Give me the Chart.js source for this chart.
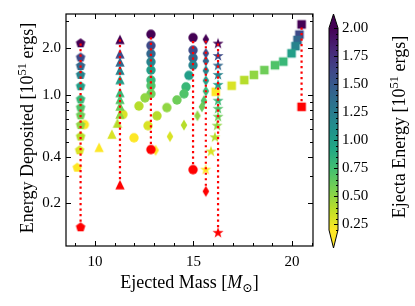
<!DOCTYPE html>
<html>
<head>
<meta charset="utf-8">
<script src="https://cdn.jsdelivr.net/npm/chart.js@4"></script>
<style>
html, body { margin: 0; padding: 0; background: #fff; }
</style>
</head>
<body>
<canvas id="chart" width="415" height="306"></canvas>
<script>
// ejecta energy (colour) of the n-th point of every series [10^51 ergs]
const ejecta = [2.0, 1.6, 1.4, 1.2, 1.0, 0.8, 0.7, 0.6, 0.5, 0.4, 0.3, 0.2];

// ejected mass / energy deposited, one pair of arrays per model
const pentMass = [9.27, 9.27, 9.27, 9.27, 9.27, 9.27, 9.27, 9.27, 9.27, 9.27, 9.22, 9.10];
const pentE    = [2.16, 1.75, 1.54, 1.35, 1.14, 0.94, 0.83, 0.74, 0.64, 0.54, 0.44, 0.34];

const triMass = [11.27, 11.27, 11.27, 11.27, 11.27, 11.27, 11.27, 11.27, 11.27, 11.14, 10.86, 10.21];
const triE    = [2.29, 1.85, 1.64, 1.45, 1.26, 1.04, 0.94, 0.85, 0.755, 0.66, 0.56, 0.46];

const circAMass = [12.84, 12.84, 12.84, 12.84, 12.84, 12.84, 12.84, 12.84, 12.54, 12.23, 11.42, 9.46];
const circAE    = [2.47, 2.09, 1.85, 1.64, 1.45, 1.25, 1.15, 1.02, 0.96, 0.85, 0.75, 0.645];

const circBMass = [14.98, 14.98, 14.98, 14.98, 14.77, 14.62, 14.52, 14.16, 13.65, 13.15, 12.69, 11.98];
const circBE    = [2.35, 1.95, 1.74, 1.56, 1.34, 1.13, 1.02, 0.93, 0.83, 0.735, 0.635, 0.53];

const diaMass = [15.63, 15.63, 15.63, 15.63, 15.63, 15.63, 15.53, 15.43, 15.20, 14.52, 13.81, 13.08];
const diaE    = [2.29, 1.86, 1.66, 1.44, 1.24, 1.06, 0.92, 0.84, 0.736, 0.64, 0.54, 0.44];

const starMass = [16.25, 16.25, 16.25, 16.25, 16.25, 16.25, 16.25, 16.25, 16.2, 16.09, 15.89, 15.62];
const starE    = [2.15, 1.79, 1.55, 1.35, 1.165, 0.92, 0.816, 0.725, 0.635, 0.534, 0.432, 0.33];

const sqMass = [20.49, 20.38, 20.28, 20.18, 19.98, 19.56, 19.14, 18.60, 18.07, 17.58, 16.94, 16.13];
const sqE    = [2.86, 2.46, 2.27, 2.07, 1.86, 1.645, 1.56, 1.45, 1.35, 1.25, 1.15, 1.05];

// red markers (bottom of each dotted line)
const bindMass  = [9.27, 11.27, 12.84, 14.98, 15.63, 16.25, 20.49];
const bindE     = [0.14, 0.264, 0.445, 0.33, 0.239, 0.129, 0.84];
const bindShape = ['pentagon', 'triangle', 'circle', 'circle', 'diamond', 'star', 'square'];
const lineTopE  = [2.16, 2.29, 2.47, 2.35, 2.29, 2.15, 2.86];

// ticks
const xMajor = [10, 15, 20];
const xMinor = [9, 11, 12, 13, 14, 16, 17, 18, 19, 21];
const yMajor = [0.2, 0.4, 1.0, 2.0];
const yMinor = [0.3, 0.5, 0.6, 0.7, 0.8, 0.9, 3.0];
const cbarTicks = [0.25, 0.5, 0.75, 1.0, 1.25, 1.5, 1.75, 2.0];
const cbarMin = 0.2, cbarMax = 2.0;

const FONT = '"Liberation Serif", "DejaVu Serif", serif';
const VIR = ['#440154', '#482475', '#414487', '#355f8d', '#2a788e', '#21918c',
             '#22a884', '#44bf70', '#7ad151', '#bddf26', '#fde725'];

function hex(h) { return [1, 3, 5].map(i => parseInt(h.substr(i, 2), 16)); }

// reversed viridis
function cmap(v) {
  let t = (v - cbarMin) / (cbarMax - cbarMin);
  t = Math.max(0, Math.min(1, t));
  const p = (1 - t) * 10;
  const i = Math.min(9, Math.floor(p)), f = p - i;
  const a = hex(VIR[i]), b = hex(VIR[i + 1]);
  const c = a.map((ch, k) => Math.round(ch + (b[k] - ch) * f));
  return `rgb(${c[0]},${c[1]},${c[2]})`;
}

const markerCache = {};
function marker(shape, color) {
  const key = shape + color;
  if (markerCache[key]) return markerCache[key];
  const c = document.createElement('canvas');
  c.width = c.height = 16;
  const g = c.getContext('2d');
  g.translate(8, 8);
  g.fillStyle = color;
  g.beginPath();
  if (shape === 'circle') {
    g.arc(0, 0, 4.7, 0, 2 * Math.PI);
  } else if (shape === 'square') {
    g.rect(-4.3, -4.3, 8.6, 8.6);
  } else if (shape === 'triangle') {
    g.moveTo(0, -4.7); g.lineTo(4.7, 4.7); g.lineTo(-4.7, 4.7);
  } else if (shape === 'diamond') {
    g.moveTo(0, -5.6); g.lineTo(3.3, 0); g.lineTo(0, 5.6); g.lineTo(-3.3, 0);
  } else {
    const star = shape === 'star';
    const n = star ? 10 : 5;
    for (let i = 0; i < n; i++) {
      const r = star ? (i % 2 ? 2.3 : 5.8) : 5;
      const ang = -Math.PI / 2 + i * 2 * Math.PI / n;
      const px = r * Math.cos(ang), py = r * Math.sin(ang);
      if (i === 0) g.moveTo(px, py); else g.lineTo(px, py);
    }
  }
  g.closePath();
  g.fill();
  markerCache[key] = c;
  return c;
}

const models = [
  { shape: 'pentagon', mass: pentMass, E: pentE },
  { shape: 'triangle', mass: triMass, E: triE },
  { shape: 'circle', mass: circAMass, E: circAE },
  { shape: 'circle', mass: circBMass, E: circBE },
  { shape: 'diamond', mass: diaMass, E: diaE },
  { shape: 'star', mass: starMass, E: starE },
  { shape: 'square', mass: sqMass, E: sqE }
];

const datasets = [];

// red dotted lines, on top
bindMass.forEach((m, i) => {
  datasets.push({
    data: [{ x: m, y: bindE[i] }, { x: m, y: lineTopE[i] }],
    showLine: true,
    borderColor: '#ff0000',
    borderWidth: 2.2,
    borderDash: [2.2, 3.3],
    pointRadius: 0,
    order: 0
  });
});

datasets.push({
  data: bindMass.map((m, i) => ({ x: m, y: bindE[i], s: bindShape[i] })),
  pointRadius: 5,
  pointStyle: ctx => ctx.raw ? marker(ctx.raw.s, '#ff0000') : 'circle',
  order: 1
});

models.forEach(md => {
  datasets.push({
    data: md.mass.map((m, i) => ({ x: m, y: md.E[i], c: ejecta[i] })),
    pointRadius: 5,
    pointStyle: ctx => ctx.raw ? marker(md.shape, cmap(ctx.raw.c)) : 'circle',
    order: 2
  });
});

// text with super/subscripts, centred on (x, y) baseline
function rich(ctx, parts, x, y, rot, size) {
  ctx.save();
  ctx.translate(x, y);
  ctx.rotate(rot);
  ctx.textBaseline = 'alphabetic';
  ctx.textAlign = 'left';
  const fontOf = p => `${p.it ? 'italic ' : ''}${p.sup || p.sub ? size * 0.7 : size}px ${FONT}`;
  let total = 0;
  parts.forEach(p => { ctx.font = fontOf(p); p.w = ctx.measureText(p.t).width; total += p.w; });
  let cx = -total / 2;
  parts.forEach(p => {
    ctx.font = fontOf(p);
    const dy = p.sup ? -size * 0.38 : p.sub ? size * 0.2 : 0;
    ctx.fillText(p.t, cx, dy);
    cx += p.w;
  });
  ctx.restore();
}

const xTitle = [{ t: 'Ejected Mass [' }, { t: 'M', it: true }, { t: '⊙', sub: true }, { t: ']' }];
const yTitle = [{ t: 'Energy Deposited [10' }, { t: '51', sup: true }, { t: ' ergs]' }];
const cTitle = [{ t: 'Ejecta Energy [10' }, { t: '51', sup: true }, { t: ' ergs]' }];

const decor = {
  id: 'decor',
  afterDraw(chart) {
    const { ctx, chartArea: a, scales: { x, y } } = chart;
    ctx.save();
    ctx.strokeStyle = '#000';
    ctx.fillStyle = '#000';
    ctx.lineWidth = 1;
    ctx.beginPath();
    const xt = (v, len) => {
      const px = Math.round(x.getPixelForValue(v)) + 0.5;
      ctx.moveTo(px, a.bottom); ctx.lineTo(px, a.bottom - len);
      ctx.moveTo(px, a.top); ctx.lineTo(px, a.top + len);
    };
    const yt = (v, len) => {
      const py = Math.round(y.getPixelForValue(v)) + 0.5;
      ctx.moveTo(a.left, py); ctx.lineTo(a.left + len, py);
      ctx.moveTo(a.right, py); ctx.lineTo(a.right - len, py);
    };
    xMajor.forEach(v => xt(v, 5));
    xMinor.forEach(v => xt(v, 3));
    yMajor.forEach(v => yt(v, 5));
    yMinor.forEach(v => yt(v, 3));
    ctx.stroke();
    ctx.lineWidth = 1.2;
    ctx.strokeRect(a.left, a.top, a.right - a.left, a.bottom - a.top);

    rich(ctx, xTitle, (a.left + a.right) / 2, 288, 0, 18);
    rich(ctx, yTitle, 33, (a.top + a.bottom) / 2 - 2, -Math.PI / 2, 18);

    // colour bar
    const bx = a.right + 16, bw = 9;
    const tTop = a.top, rTop = a.top + 14, rBot = a.bottom - 16, tBot = a.bottom + 2;
    const cy = v => rBot - (v - cbarMin) / (cbarMax - cbarMin) * (rBot - rTop);
    const grad = ctx.createLinearGradient(0, rBot, 0, rTop);
    for (let k = 0; k <= 10; k++) grad.addColorStop(k / 10, VIR[10 - k]);
    ctx.fillStyle = grad;
    ctx.fillRect(bx, rTop, bw, rBot - rTop);
    ctx.fillStyle = cmap(cbarMax);
    ctx.beginPath(); ctx.moveTo(bx, rTop + 0.5); ctx.lineTo(bx + bw / 2, tTop); ctx.lineTo(bx + bw, rTop + 0.5); ctx.fill();
    ctx.fillStyle = cmap(cbarMin);
    ctx.beginPath(); ctx.moveTo(bx, rBot - 0.5); ctx.lineTo(bx + bw / 2, tBot); ctx.lineTo(bx + bw, rBot - 0.5); ctx.fill();
    ctx.lineWidth = 1;
    ctx.beginPath();
    ctx.moveTo(bx, rTop); ctx.lineTo(bx + bw / 2, tTop); ctx.lineTo(bx + bw, rTop);
    ctx.lineTo(bx + bw, rBot); ctx.lineTo(bx + bw / 2, tBot); ctx.lineTo(bx, rBot);
    ctx.closePath();
    ctx.stroke();
    ctx.beginPath();
    for (let v = cbarMin; v <= cbarMax + 1e-6; v += 0.05) {
      const py = Math.round(cy(v)) + 0.5;
      ctx.moveTo(bx + bw, py); ctx.lineTo(bx + bw - 2, py);
    }
    cbarTicks.forEach(v => {
      const py = Math.round(cy(v)) + 0.5;
      ctx.moveTo(bx + bw, py); ctx.lineTo(bx + bw - 4, py);
    });
    ctx.stroke();
    ctx.fillStyle = '#000';
    ctx.font = `15px ${FONT}`;
    ctx.textAlign = 'left';
    ctx.textBaseline = 'middle';
    cbarTicks.forEach(v => ctx.fillText(v.toFixed(2), bx + bw + 4, cy(v)));
    rich(ctx, cTitle, 405, (a.top + a.bottom) / 2 - 3, -Math.PI / 2, 18);
    ctx.restore();
  }
};

new Chart(document.getElementById('chart'), {
  type: 'scatter',
  data: { datasets },
  options: {
    responsive: false,
    animation: false,
    devicePixelRatio: 1,
    layout: { padding: { left: 0, top: 13, right: 102, bottom: 0 } },
    plugins: { legend: { display: false }, tooltip: { enabled: false } },
    scales: {
      x: {
        type: 'linear',
        min: 8.53, max: 21.07,
        afterFit: s => { s.height = 60; },
        afterBuildTicks: s => { s.ticks = xMajor.map(v => ({ value: v })); },
        grid: { display: false, drawTicks: false },
        border: { display: false },
        ticks: { color: '#000', font: { family: FONT, size: 15 }, padding: 7, maxRotation: 0 }
      },
      y: {
        type: 'logarithmic',
        min: 0.106, max: 3.34,
        afterFit: s => { s.width = 66; },
        afterBuildTicks: s => { s.ticks = yMajor.map(v => ({ value: v })); },
        grid: { display: false, drawTicks: false },
        border: { display: false },
        ticks: { color: '#000', font: { family: FONT, size: 15 }, padding: 5,
                 callback: v => Number(v).toFixed(1) }
      }
    }
  },
  plugins: [decor]
});
</script>
</body>
</html>
